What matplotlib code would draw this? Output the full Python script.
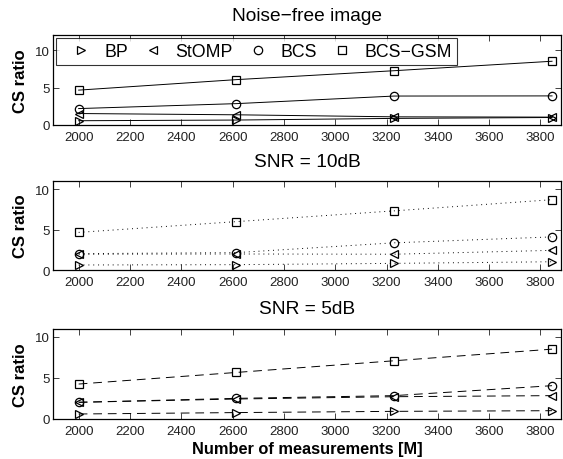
import numpy as np
import matplotlib
matplotlib.use("Agg")
import matplotlib.pyplot as plt
from matplotlib.lines import Line2D

plt.rcParams['font.family'] = ['Liberation Sans', 'DejaVu Sans']

### Data

measurements = [2000, 2615, 3230, 3845]
methods = ["BP", "StOMP", "BCS", "BCS\u2212GSM"]
markers = [">", "<", "o", "s"]

titles = ["Noise\u2212free image", "SNR = 10dB", "SNR = 5dB"]

noisefree_bp = [0.57, 0.66, 0.88, 1.0]
noisefree_stomp = [1.53, 1.36, 1.09, 1.05]
noisefree_bcs = [2.19, 2.85, 3.86, 3.88]
noisefree_bcsgsm = [4.65, 6.05, 7.24, 8.5]

snr10_bp = [0.62, 0.66, 0.82, 1.02]
snr10_stomp = [1.95, 1.98, 1.95, 2.43]
snr10_bcs = [2.02, 2.15, 3.36, 4.09]
snr10_bcsgsm = [4.65, 5.98, 7.31, 8.69]

snr5_bp = [0.61, 0.78, 0.93, 1.01]
snr5_stomp = [2.03, 2.43, 2.71, 2.84]
snr5_bcs = [2.03, 2.51, 2.84, 4.05]
snr5_bcsgsm = [4.25, 5.66, 7.08, 8.49]

panels = [
    [noisefree_bp, noisefree_stomp, noisefree_bcs, noisefree_bcsgsm],
    [snr10_bp, snr10_stomp, snr10_bcs, snr10_bcsgsm],
    [snr5_bp, snr5_stomp, snr5_bcs, snr5_bcsgsm],
]
linestyles = ["-", (0, (1, 4)), (0, (9, 6))]
ytops = [12, 11, 11]

### Figure layout (pixel boxes from the reference)

W, H = 563, 460
fig = plt.figure(figsize=(W / 100, H / 100), dpi=100)
boxes = [(53, 36, 561, 126), (53, 182, 561, 271), (53, 329.5, 561, 420)]

for i, (l, t, r, b) in enumerate(boxes):
    ax = fig.add_axes([l / W, 1 - b / H, (r - l) / W, (b - t) / H])
    for vals, mk in zip(panels[i], markers):
        ax.plot(measurements, vals, color='black', linestyle=linestyles[i],
                linewidth=0.7, marker=mk, markersize=6,
                markerfacecolor='none', markeredgecolor='black',
                markeredgewidth=0.9)
    ax.set_xlim(1900, 3880)
    ax.set_ylim(0, ytops[i])
    ax.set_xticks(np.arange(2000, 3801, 200))
    ax.set_yticks([0, 5, 10])
    ax.tick_params(direction='in', top=True, right=True, length=4,
                   width=0.6, labelsize=9.5, colors='#222222')
    ax.tick_params(axis='x', pad=4.2)
    ax.tick_params(axis='y', pad=2.2)
    for sp in ax.spines.values():
        sp.set_linewidth(0.9)
    ax.set_title(titles[i], fontsize=13.8, pad=11)
    ax.set_ylabel("CS ratio", fontsize=12, fontweight='bold', labelpad=5)
    if i == 2:
        ax.set_xlabel("Number of measurements [M]", fontsize=11.8,
                      fontweight='bold', labelpad=3)
    if i == 0:
        handles = [Line2D([], [], linestyle='none', marker=mk, markersize=6,
                          markerfacecolor='none', markeredgecolor='black',
                          markeredgewidth=0.9) for mk in markers]
        leg = ax.legend(handles, methods, ncol=4, loc='upper left',
                        bbox_to_anchor=(0.006, 0.965), fontsize=12.8,
                        frameon=True, fancybox=False, edgecolor='black',
                        handlelength=2.3, handletextpad=0.13,
                        columnspacing=0.25, borderpad=0.28,
                        borderaxespad=0)
        leg.get_frame().set_linewidth(0.8)

fig.savefig("out.png", dpi=100)
